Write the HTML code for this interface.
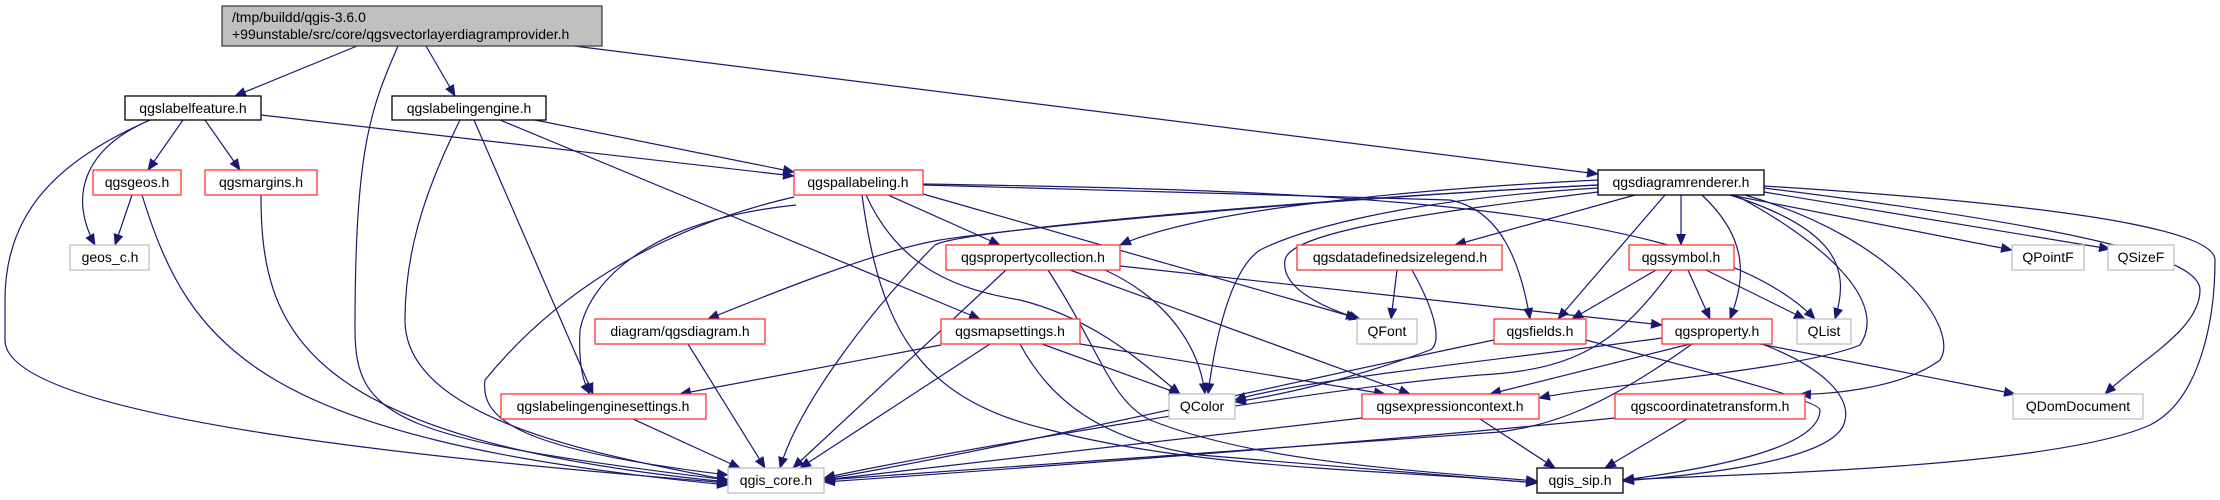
<!DOCTYPE html>
<html><head><meta charset="utf-8"><style>
html,body{margin:0;padding:0;background:#fff;width:2220px;height:500px;overflow:hidden}
svg text{font-family:"Liberation Sans",sans-serif;font-size:14px;fill:#000}
</style></head><body>
<svg width="2220" height="500" viewBox="0 0 2220 500" xmlns="http://www.w3.org/2000/svg">
<defs><marker id="a" markerUnits="userSpaceOnUse" markerWidth="12" markerHeight="10" refX="11" refY="5" orient="auto"><path d="M0,0 L12,5 L0,10 z" fill="#191970"/></marker></defs>
<g fill="none" stroke="#191970" stroke-width="1.2" marker-end="url(#a)">
<path d="M357,46 L235,96"/>
<path d="M398,46 C370,110 355,150 355,330 C355,420 400,440 728,480"/>
<path d="M426,46 L455,96"/>
<path d="M574,46 L1598,174"/>
<path d="M183,120 L148,170"/>
<path d="M205,120 L240,170"/>
<path d="M150,120 C80,150 70,200 95,245"/>
<path d="M150,120 C60,160 5,210 5,300 L5,340 C5,420 450,460 728,483"/>
<path d="M261,115 L794,176"/>
<path d="M460,120 C420,200 405,260 405,320 C405,420 600,455 728,480"/>
<path d="M474,120 L593,394"/>
<path d="M500,120 L980,319"/>
<path d="M535,120 L794,172"/>
<path d="M132,195 L115,245"/>
<path d="M142,195 C190,350 260,440 728,485"/>
<path d="M261,195 C261,330 300,440 728,482"/>
<path d="M888,195 L1000,245"/>
<path d="M923,194 L1357,318"/>
<path d="M866,195 C900,270 960,290 1020,300 C1100,320 1150,370 1180,394"/>
<path d="M796,205 C650,220 590,280 580,330 C578,370 585,385 590,394"/>
<path d="M794,197 C650,230 550,300 485,380 C480,420 520,450 728,475"/>
<path d="M862,195 C880,330 920,400 1050,430 C1200,470 1400,470 1537,483"/>
<path d="M923,185 L1450,200 C1500,210 1520,260 1530,319"/>
<path d="M923,184 C1300,190 1700,200 1815,319"/>
<path d="M1598,180 C1400,190 1200,210 1120,245"/>
<path d="M1635,195 L1455,245"/>
<path d="M1598,185 C1300,200 1000,230 940,240 C880,250 780,290 708,319"/>
<path d="M1681,195 L1681,245"/>
<path d="M1665,195 L1558,319"/>
<path d="M1702,195 C1750,240 1745,280 1730,319"/>
<path d="M1730,195 C1840,230 1850,270 1835,319"/>
<path d="M1598,188 C1400,200 1300,230 1260,250 C1230,270 1215,340 1208,394"/>
<path d="M1598,192 C1450,210 1290,230 1285,260 C1280,290 1330,310 1360,319"/>
<path d="M1598,185 C1300,200 960,230 935,245 C880,300 800,400 780,468"/>
<path d="M1735,195 C1820,240 1890,300 1860,345 C1800,370 1600,385 1539,398"/>
<path d="M1745,195 C1900,240 1960,330 1940,360 C1900,390 1820,395 1800,394"/>
<path d="M1730,195 L2012,250"/>
<path d="M1764,192 L2110,249"/>
<path d="M1764,188 C2100,230 2200,260 2200,290 C2200,330 2140,360 2105,394"/>
<path d="M1764,186 C2150,210 2215,240 2215,260 C2215,320 2200,400 2150,425 C2050,470 1700,475 1623,480"/>
<path d="M1006,270 L793,468"/>
<path d="M1105,270 C1170,300 1200,350 1205,394"/>
<path d="M1070,270 L1410,394"/>
<path d="M1120,266 L1662,325"/>
<path d="M1048,270 C1100,350 1110,400 1150,420 C1250,460 1400,470 1537,481"/>
<path d="M1397,270 L1391,319"/>
<path d="M1412,270 C1440,320 1440,345 1430,350 C1350,380 1280,395 1235,402"/>
<path d="M1656,270 L1572,319"/>
<path d="M1688,270 L1710,319"/>
<path d="M1706,270 L1805,319"/>
<path d="M1672,270 C1620,340 1580,370 1480,375 C1300,390 900,460 824,478"/>
<path d="M941,345 L680,394"/>
<path d="M1042,344 L1180,394"/>
<path d="M1080,344 L1385,394"/>
<path d="M990,344 L800,468"/>
<path d="M1020,344 C1050,400 1100,440 1200,455 L1537,483"/>
<path d="M1494,340 C1300,380 1000,450 824,479"/>
<path d="M1586,340 C1700,370 1820,400 1820,410 C1820,450 1700,470 1623,480"/>
<path d="M1690,344 L1490,394"/>
<path d="M1662,338 C1500,360 1300,380 1235,400"/>
<path d="M1692,344 C1600,410 1550,425 1500,432 L824,480"/>
<path d="M1760,344 L2015,394"/>
<path d="M1762,344 C1830,370 1850,400 1845,420 C1840,460 1700,475 1623,481"/>
<path d="M633,419 L740,468"/>
<path d="M688,344 L765,468"/>
<path d="M1362,418 L824,480"/>
<path d="M1480,419 L1555,468"/>
<path d="M1615,418 C1400,440 1000,470 824,482"/>
<path d="M1687,419 L1605,468"/>
</g>
<g stroke-width="1.3">
<rect x="222" y="6" width="380" height="40" fill="#bfbfbf" stroke="#404040"/>
<g fill="#fff">
<rect x="125" y="96" width="136" height="24" stroke="#000"/>
<rect x="392" y="96" width="154" height="24" stroke="#000"/>
<rect x="93" y="170" width="88" height="25" stroke="#f33"/>
<rect x="205" y="170" width="112" height="25" stroke="#f33"/>
<rect x="70" y="245" width="79" height="25" stroke="#bfbfbf"/>
<rect x="794" y="170" width="129" height="25" stroke="#f33"/>
<rect x="1598" y="170" width="166" height="25" stroke="#000"/>
<rect x="946" y="245" width="174" height="25" stroke="#f33"/>
<rect x="1297" y="245" width="205" height="25" stroke="#f33"/>
<rect x="1629" y="245" width="105" height="25" stroke="#f33"/>
<rect x="2012" y="245" width="72" height="25" stroke="#bfbfbf"/>
<rect x="2108" y="245" width="66" height="25" stroke="#bfbfbf"/>
<rect x="595" y="319" width="170" height="25" stroke="#f33"/>
<rect x="941" y="319" width="139" height="25" stroke="#f33"/>
<rect x="1357" y="319" width="60" height="25" stroke="#bfbfbf"/>
<rect x="1494" y="319" width="92" height="25" stroke="#f33"/>
<rect x="1662" y="319" width="110" height="25" stroke="#f33"/>
<rect x="1797" y="319" width="54" height="25" stroke="#bfbfbf"/>
<rect x="501" y="394" width="205" height="25" stroke="#f33"/>
<rect x="1169" y="394" width="66" height="25" stroke="#bfbfbf"/>
<rect x="1362" y="394" width="177" height="25" stroke="#f33"/>
<rect x="1615" y="394" width="190" height="25" stroke="#f33"/>
<rect x="2013" y="394" width="130" height="25" stroke="#bfbfbf"/>
<rect x="728" y="468" width="96" height="25" stroke="#bfbfbf"/>
<rect x="1537" y="468" width="86" height="25" stroke="#000"/>
</g></g>
<text x="232" y="22">/tmp/buildd/qgis-3.6.0</text>
<text x="232" y="39">+99unstable/src/core/qgsvectorlayerdiagramprovider.h</text>
<g text-anchor="middle">
<text x="193" y="113">qgslabelfeature.h</text>
<text x="469" y="113">qgslabelingengine.h</text>
<text x="137" y="187">qgsgeos.h</text>
<text x="261" y="187">qgsmargins.h</text>
<text x="110" y="262">geos_c.h</text>
<text x="858" y="187">qgspallabeling.h</text>
<text x="1681" y="187">qgsdiagramrenderer.h</text>
<text x="1033" y="262">qgspropertycollection.h</text>
<text x="1400" y="262">qgsdatadefinedsizelegend.h</text>
<text x="1681" y="262">qgssymbol.h</text>
<text x="2048" y="262">QPointF</text>
<text x="2141" y="262">QSizeF</text>
<text x="680" y="336">diagram/qgsdiagram.h</text>
<text x="1010" y="336">qgsmapsettings.h</text>
<text x="1387" y="336">QFont</text>
<text x="1540" y="336">qgsfields.h</text>
<text x="1717" y="336">qgsproperty.h</text>
<text x="1824" y="336">QList</text>
<text x="603" y="411">qgslabelingenginesettings.h</text>
<text x="1202" y="411">QColor</text>
<text x="1450" y="411">qgsexpressioncontext.h</text>
<text x="1710" y="411">qgscoordinatetransform.h</text>
<text x="2078" y="411">QDomDocument</text>
<text x="776" y="485">qgis_core.h</text>
<text x="1580" y="485">qgis_sip.h</text>
</g>
</svg>
</body></html>
